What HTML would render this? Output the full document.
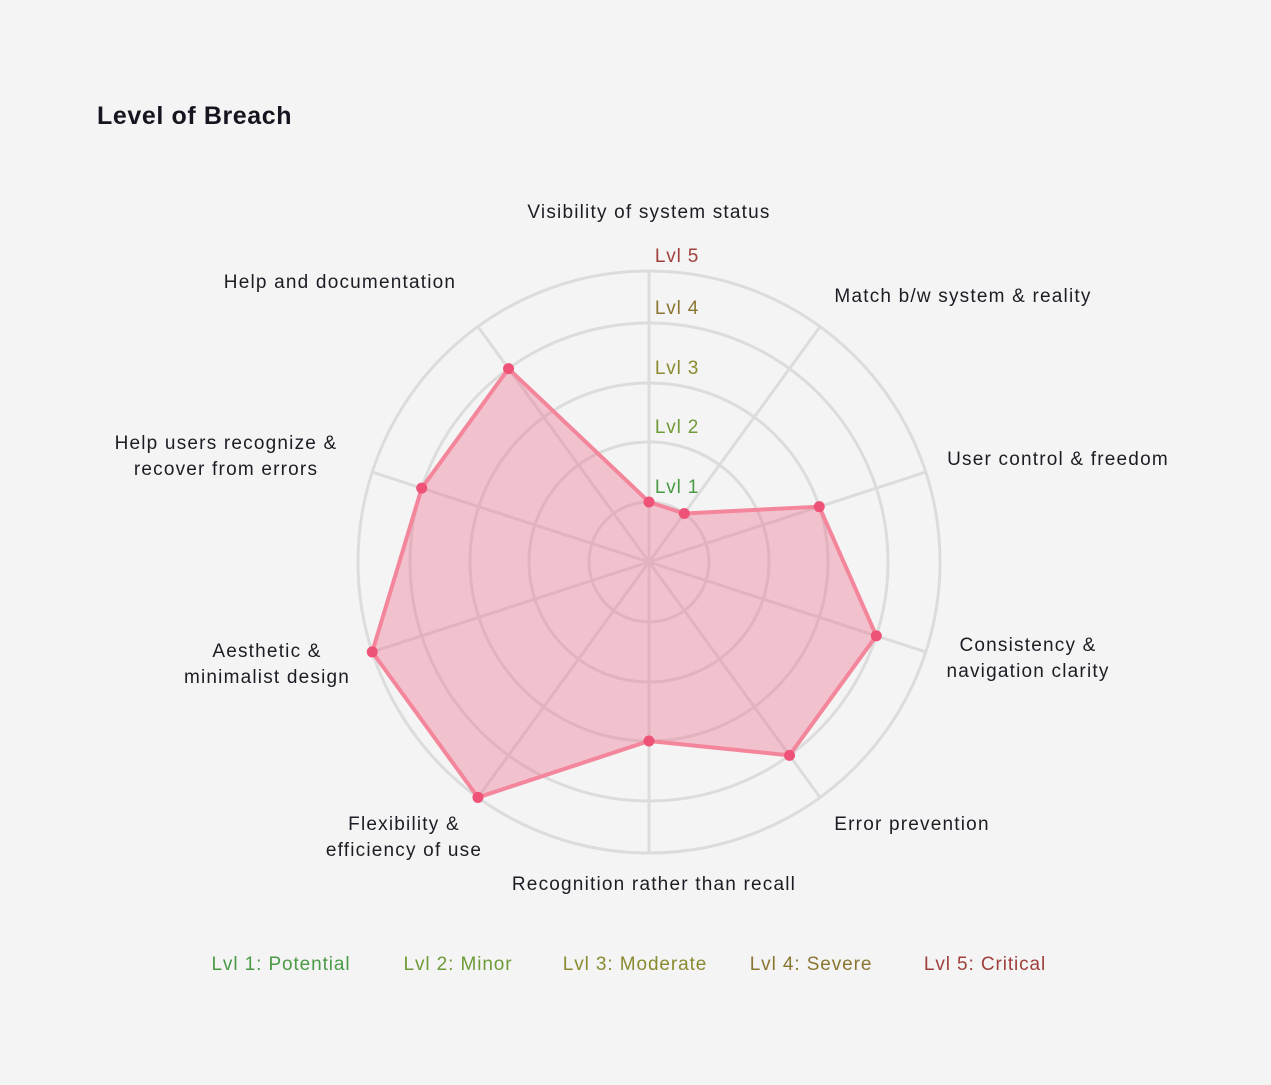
<!DOCTYPE html>
<html><head><meta charset="utf-8"><style>
body{margin:0;background:#f4f4f4;width:1271px;height:1080px;overflow:hidden;font-family:"Liberation Sans",sans-serif}
</style></head><body>
<svg width="1271" height="1080">
<rect width="1271" height="1080" fill="#f4f4f4"/>
<text x="97" y="124" font-size="25" font-weight="bold" letter-spacing="0.6" fill="#15151f">Level of Breach</text>
<g id="grid"></g><g id="series"></g><g id="labels"></g><g id="legend"></g>
</svg>
<script>
const categories=["Visibility of system status","Match b/w system & reality","User control & freedom","Consistency &|navigation clarity","Error prevention","Recognition rather than recall","Flexibility &|efficiency of use","Aesthetic &|minimalist design","Help users recognize &|recover from errors","Help and documentation"];
const values=[1,1,3,4,4,3,5,5,4,4];
const tickLabels=["Lvl 1","Lvl 2","Lvl 3","Lvl 4","Lvl 5"];
const legendLabels=["Lvl 1: Potential","Lvl 2: Minor","Lvl 3: Moderate","Lvl 4: Severe","Lvl 5: Critical"];
const levelColors=["#4a9a45","#6f9a38","#8a8a30","#8a7632","#a0403c"];
const cx=649,cy=562,ringR=[60,120,179,239,291];
const NS="http://www.w3.org/2000/svg";
function mk(t,a,p){const e=document.createElementNS(NS,t);for(const k in a)e.setAttribute(k,a[k]);p.appendChild(e);return e;}
function r(v){if(v<=0)return 0;const i=Math.min(4,Math.floor(v)-1);if(v>=5)return ringR[4];const f=v-Math.floor(v);return ringR[i]+(ringR[i+1]-ringR[i])*f;}
function ang(i){return -Math.PI/2+i*2*Math.PI/categories.length;}
function pt(i,v){const a=ang(i),rr=r(v);return [cx+rr*Math.cos(a),cy+rr*Math.sin(a)];}
const grid=document.getElementById('grid');
ringR.forEach((rr,i)=>{const c=mk('circle',{cx,cy,r:rr,fill:'none',stroke:'#dcdcdc','stroke-width':3},grid);

});
categories.forEach((c,i)=>{const [x,y]=pt(i,5);const l=mk('line',{x1:cx,y1:cy,x2:x,y2:y,stroke:'#dcdcdc','stroke-width':3},grid);

});
const ser=document.getElementById('series');
const pts=values.map((v,i)=>pt(i,v));
const poly=mk('polygon',{points:pts.map(p=>p.join(',')).join(' '),fill:'rgba(240,110,145,0.38)',stroke:'#f4869c','stroke-width':4,'stroke-linejoin':'round'},ser);


pts.forEach(p=>{const c=mk('circle',{cx:p[0],cy:p[1],r:5.5,fill:'#ee5277'},ser);

});
const lab=document.getElementById('labels');
tickLabels.forEach((t,i)=>{const e=mk('text',{x:677,y:cy-ringR[i]-9,'font-size':19,'letter-spacing':0.8,'text-anchor':'middle',fill:levelColors[i]},lab);e.textContent=t;

});
const catPos=[[649,218,'middle'],[963,302,'middle'],[1058,465,'middle'],[1028,651,'middle'],[912,830,'middle'],[654,890,'middle'],[404,830,'middle'],[267,657,'middle'],[226,449,'middle'],[340,288,'middle']];
categories.forEach((c,i)=>{const [x,y,an]=catPos[i];const e=mk('text',{x,y,'font-size':19,'letter-spacing':1.2,'text-anchor':an,fill:'#1c1c24'},lab);


c.split('|').forEach((s,j)=>{const ts=mk('tspan',{x,dy:j?26:0},e);ts.textContent=s;});});
const leg=document.getElementById('legend');
const legX=[281,458,635,811,985];
legendLabels.forEach((t,i)=>{const e=mk('text',{x:legX[i],y:970,'font-size':19,'letter-spacing':0.9,'text-anchor':'middle',fill:levelColors[i]},leg);e.textContent=t;

});
</script>
</body></html>
